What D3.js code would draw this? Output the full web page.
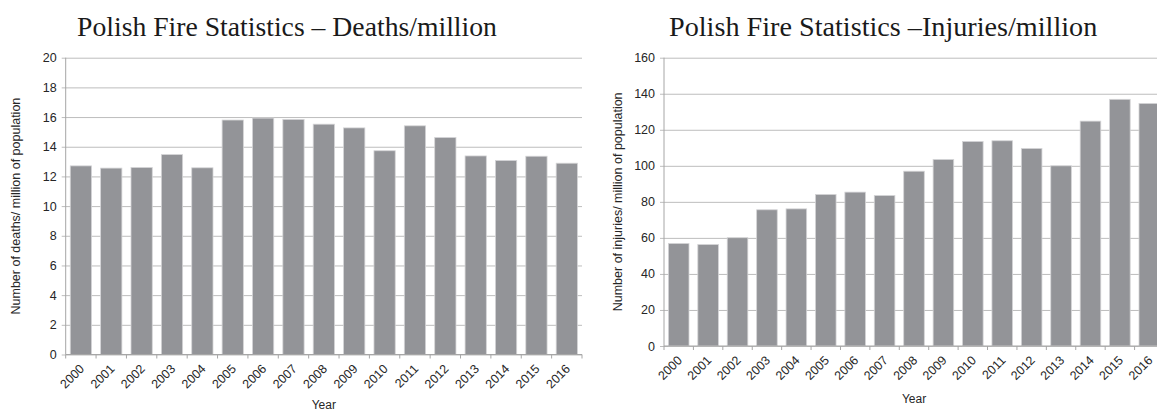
<!DOCTYPE html>
<html>
<head>
<meta charset="utf-8">
<script src="https://cdn.jsdelivr.net/npm/d3@7"></script>
<style>
  body { margin: 0; background: #fff; overflow: hidden; }
  text { font-family: "Liberation Sans", Arial, sans-serif; fill: #262626; }
  .title { font-family: "Liberation Serif", "Times New Roman", serif; fill: #1a1a1a; }
</style>
</head>
<body>
<div id="chart"></div>
<script>
const years = ["2000", "2001", "2002", "2003", "2004", "2005", "2006", "2007", "2008",
  "2009", "2010", "2011", "2012", "2013", "2014", "2015", "2016"];
const deaths = [12.71, 12.56, 12.6, 13.47, 12.58, 15.8, 15.93, 15.84, 15.52,
  15.27, 13.73, 15.41, 14.62, 13.38, 13.07, 13.36, 12.89];
const injuries = [56.9, 56.3, 60.1, 75.6, 76.1, 84.1, 85.4, 83.5, 97,
  103.5, 113.5, 113.9, 109.6, 100, 124.8, 136.9, 134.6];
const deathTicks = [0, 2, 4, 6, 8, 10, 12, 14, 16, 18, 20];
const injuryTicks = [0, 20, 40, 60, 80, 100, 120, 140, 160];

const svg = d3.select("#chart").append("svg")
  .attr("width", 1157)
  .attr("height", 412);

function drawChart(opt) {
  const g = svg.append("g");
  const x = d3.scaleBand()
    .domain(years)
    .range([opt.left, opt.right])
    .paddingInner(0.3)
    .paddingOuter(0.15);
  const y = d3.scaleLinear()
    .domain([0, opt.max])
    .range([opt.bottom, opt.top]);

  // gridlines + y labels
  const yAxis = g.append("g")
    .attr("transform", `translate(${opt.left},0)`)
    .call(d3.axisLeft(y).tickValues(opt.ticks).tickSizeInner(-(opt.right - opt.left)).tickSizeOuter(0).tickPadding(9));
  yAxis.select(".domain").remove();
  yAxis.selectAll(".tick line")
    .attr("x1", -4)
    .attr("stroke", "#bdbdbd");
  yAxis.selectAll(".tick text")
    .style("font-size", "12.5px")
    .attr("fill", "#262626");

  // bars
  g.selectAll("rect.bar")
    .data(opt.values)
    .enter()
    .append("rect")
    .attr("class", "bar")
    .attr("x", (d, i) => x(years[i]))
    .attr("y", d => y(d))
    .attr("width", x.bandwidth())
    .attr("height", d => y(0) - y(d))
    .attr("fill", "#939498")
    .attr("stroke", "#d4d4d6")
    .attr("stroke-width", 0.8);

  // y axis line
  g.append("line")
    .attr("x1", opt.left).attr("x2", opt.left)
    .attr("y1", opt.top).attr("y2", opt.bottom)
    .attr("stroke", "#a6a6a6");

  // x axis: line, boundary ticks, rotated labels
  g.append("line")
    .attr("x1", opt.left).attr("x2", opt.right)
    .attr("y1", opt.bottom).attr("y2", opt.bottom)
    .attr("stroke", "#a6a6a6");
  const step = x.step();
  const bounds = d3.range(years.length + 1).map(i => opt.left + i * step);
  g.selectAll("line.xtick")
    .data(bounds)
    .enter()
    .append("line")
    .attr("class", "xtick")
    .attr("x1", d => d).attr("x2", d => d)
    .attr("y1", opt.bottom).attr("y2", opt.bottom + 4)
    .attr("stroke", "#a6a6a6");
  g.selectAll("text.xlab")
    .data(years)
    .enter()
    .append("text")
    .attr("class", "xlab")
    .attr("transform", d => `translate(${x(d) + x.bandwidth() / 2 + 1},${opt.bottom + 12}) rotate(-45)`)
    .attr("text-anchor", "end")
    .attr("dy", "0.35em")
    .style("font-size", "12.5px")
    .text(d => d);

  // titles
  g.append("text")
    .attr("class", "title")
    .attr("x", opt.titleX)
    .attr("y", 36)
    .style("font-size", opt.titleSize + "px")
    .text(opt.title);
  g.append("text")
    .attr("x", (opt.left + opt.right) / 2)
    .attr("y", opt.yearY)
    .attr("text-anchor", "middle")
    .style("font-size", "12px")
    .text("Year");
  g.append("text")
    .attr("transform", `translate(${opt.yTitleX},${(opt.top + opt.bottom) / 2}) rotate(-90)`)
    .attr("text-anchor", "middle")
    .attr("dy", "0.35em")
    .style("font-size", "12.5px")
    .text(opt.yTitle);
}

drawChart({
  values: deaths, ticks: deathTicks, max: 20,
  left: 65.7, right: 582, top: 57.7, bottom: 354.5,
  title: "Polish Fire Statistics \u2013 Deaths/million", titleX: 77, titleSize: 27.7,
  yTitle: "Number of deaths/ million of population", yTitleX: 16, yearY: 409
});
drawChart({
  values: injuries, ticks: injuryTicks, max: 160,
  left: 664, right: 1164, top: 57.7, bottom: 346,
  title: "Polish Fire Statistics \u2013Injuries/million", titleX: 669, titleSize: 28.2,
  yTitle: "Number of injuries/ million of population", yTitleX: 618, yearY: 403
});
</script>
</body>
</html>
